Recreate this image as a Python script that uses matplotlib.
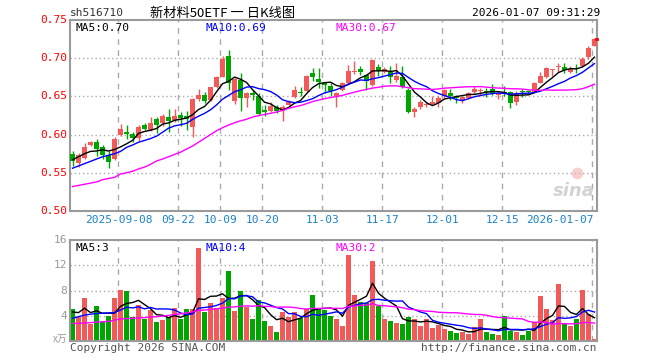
import matplotlib
matplotlib.use("Agg")
import matplotlib.pyplot as plt
import numpy as np

# daily candles, oldest first
opens = [0.575, 0.563, 0.569, 0.5865, 0.590, 0.584, 0.573, 0.568, 0.5995, 0.603,
         0.601, 0.595, 0.6125, 0.6065, 0.620, 0.6155, 0.623, 0.619, 0.626, 0.624,
         0.6105, 0.646, 0.652, 0.645, 0.6625, 0.676, 0.703, 0.6445, 0.6715, 0.6475,
         0.654, 0.651, 0.632, 0.631, 0.6365, 0.631, 0.639, 0.649, 0.656, 0.657,
         0.681, 0.673, 0.667, 0.664, 0.6505, 0.6585, 0.668, 0.682, 0.6855, 0.6775,
         0.665, 0.688, 0.682, 0.682, 0.672, 0.676, 0.6585, 0.630, 0.6365, 0.6385,
         0.6395, 0.642, 0.6505, 0.655, 0.649, 0.6455, 0.6475, 0.656, 0.657, 0.6575,
         0.6595, 0.652, 0.656, 0.6555, 0.643, 0.6562, 0.6564, 0.656, 0.668, 0.6755,
         0.685, 0.688, 0.689, 0.682, 0.686, 0.690, 0.701, 0.716]
highs = [0.5785, 0.576, 0.589, 0.591, 0.594, 0.587, 0.578, 0.597, 0.6135, 0.613,
         0.603, 0.6125, 0.615, 0.623, 0.623, 0.627, 0.634, 0.6335, 0.629, 0.631,
         0.6475, 0.6595, 0.6555, 0.662, 0.677, 0.703, 0.711, 0.674, 0.680, 0.656,
         0.658, 0.654, 0.6385, 0.643, 0.6385, 0.6385, 0.645, 0.664, 0.6625, 0.6775,
         0.687, 0.6875, 0.669, 0.667, 0.656, 0.669, 0.691, 0.696, 0.690, 0.679,
         0.699, 0.6925, 0.689, 0.690, 0.694, 0.690, 0.6605, 0.6365, 0.6455, 0.643,
         0.6505, 0.6505, 0.660, 0.6595, 0.652, 0.6505, 0.656, 0.6635, 0.6615, 0.6605,
         0.666, 0.656, 0.6635, 0.6565, 0.6575, 0.6593, 0.6584, 0.669, 0.682, 0.689,
         0.686, 0.694, 0.694, 0.690, 0.692, 0.701, 0.716, 0.726]
lows = [0.559, 0.557, 0.568, 0.5855, 0.572, 0.5685, 0.556, 0.5665, 0.598, 0.594,
        0.590, 0.591, 0.606, 0.6045, 0.602, 0.611, 0.604, 0.617, 0.611, 0.606,
        0.597, 0.6445, 0.641, 0.644, 0.6615, 0.675, 0.658, 0.6395, 0.631, 0.6365,
        0.645, 0.6255, 0.6245, 0.6295, 0.628, 0.618, 0.6385, 0.6475, 0.650, 0.656,
        0.670, 0.661, 0.655, 0.650, 0.6365, 0.657, 0.666, 0.679, 0.6785, 0.659,
        0.6635, 0.6765, 0.681, 0.668, 0.669, 0.6615, 0.6285, 0.6225, 0.633, 0.636,
        0.6385, 0.6365, 0.6475, 0.645, 0.641, 0.641, 0.6465, 0.653, 0.652, 0.649,
        0.652, 0.646, 0.6505, 0.635, 0.6385, 0.6488, 0.6541, 0.6555, 0.667, 0.6745,
        0.6765, 0.682, 0.681, 0.680, 0.681, 0.689, 0.6985, 0.7155]
closes = [0.565, 0.573, 0.584, 0.590, 0.581, 0.573, 0.5645, 0.594, 0.607, 0.601,
          0.5955, 0.610, 0.607, 0.615, 0.6125, 0.624, 0.618, 0.624, 0.622, 0.620,
          0.646, 0.652, 0.644, 0.662, 0.676, 0.699, 0.667, 0.6725, 0.648, 0.655,
          0.652, 0.627, 0.630, 0.637, 0.6315, 0.636, 0.643, 0.658, 0.654, 0.6765,
          0.676, 0.6685, 0.665, 0.657, 0.655, 0.668, 0.6835, 0.6835, 0.682, 0.6705,
          0.6975, 0.6835, 0.686, 0.6755, 0.6765, 0.6625, 0.630, 0.6335, 0.643, 0.640,
          0.643, 0.648, 0.659, 0.651, 0.648, 0.6495, 0.655, 0.6595, 0.6577, 0.6555,
          0.654, 0.6545, 0.654, 0.641, 0.654, 0.6554, 0.6558, 0.668, 0.6765, 0.687,
          0.6855, 0.689, 0.6845, 0.6855, 0.6855, 0.6985, 0.713, 0.7245]
# volume, unit 万
volumes = [5.0, 3.85, 6.8, 2.7, 5.55, 3.05, 3.95, 6.8, 8.1, 7.85,
           3.75, 5.7, 3.47, 4.9, 3.05, 3.3, 3.75, 5.2, 3.47, 5.0,
           5.0, 14.8, 4.6, 6.0, 5.2, 6.8, 11.15, 4.75, 7.95, 5.45,
           3.47, 6.5, 3.15, 2.35, 1.4, 4.65, 3.75, 4.6, 3.6, 5.0,
           7.3, 5.0, 4.9, 3.95, 3.47, 2.35, 13.6, 7.3, 6.25, 6.0,
           12.65, 5.55, 3.47, 3.15, 2.8, 2.7, 3.75, 3.47, 2.35, 3.47,
           2.1, 2.5, 1.87, 1.55, 1.3, 1.4, 1.07, 2.15, 3.47, 1.4,
           1.07, 0.9, 3.95, 1.55, 1.4, 0.9, 1.55, 3.05, 7.15, 5.07,
           3.4, 9.1, 2.7, 2.35, 3.47, 8.1, 4.27, 0.27]

# moving average values at the left edge (they depend on days before the window)
ma5_head = [0.567, 0.571, 0.575, 0.578]
ma10_head = [0.556, 0.559, 0.562, 0.565, 0.568, 0.571, 0.573, 0.575, 0.578]
ma30_head = [0.532, 0.5335, 0.535, 0.5365, 0.538, 0.541, 0.5425, 0.544, 0.5485, 0.550,
             0.552, 0.555, 0.5575, 0.561, 0.5655, 0.568, 0.571, 0.574, 0.577, 0.581,
             0.585, 0.590, 0.595, 0.600, 0.605, 0.609, 0.6125, 0.6155, 0.618]
vma5_head = [4.6, 4.5, 5.2, 4.5]
vma10_head = [3.6, 3.85, 4.1, 4.25, 4.35, 4.4, 4.45, 4.5, 4.9]
vma30_head = [2.78, 2.8, 2.85, 2.9, 3.0, 3.05, 3.1, 3.3, 3.5, 3.55,
              3.6, 3.65, 3.7, 3.8, 3.85, 3.95, 4.05, 4.2, 4.3, 4.45,
              4.6, 4.85, 4.9, 5.0, 5.1, 5.2, 5.35, 5.4, 5.5]

date_idx = [8, 18, 25, 32, 42, 52, 62, 72, 87]
date_labels = ["2025-09-08", "09-22", "10-09", "10-20", "11-03", "11-17", "12-01", "12-15", "2026-01-07"]
price_ticks = [0.50, 0.55, 0.60, 0.65, 0.70, 0.75]
vol_ticks = [4, 8, 12, 16]

RED = "#f25a5a"
GREEN = "#00a600"
GRID = "#aaaaaa"
FRAME = "#9a9a9a"
MONO = "DejaVu Sans Mono"
CJK = ["Noto Sans CJK SC", "DejaVu Sans"]


def moving(values, n, head):
    out = list(head)
    for i in range(len(head), len(values)):
        out.append(np.mean(values[i - n + 1:i + 1]))
    return np.array(out)


W, H = 660, 360
fig = plt.figure(figsize=(W / 100, H / 100), dpi=100)
fig.patch.set_facecolor("white")


def px_axes(x0, y0, x1, y1):
    return fig.add_axes([x0 / W, 1 - y1 / H, (x1 - x0) / W, (y1 - y0) / H])


ax = px_axes(70, 20, 597, 211)
axv = px_axes(70, 240, 597, 341)

n = len(closes)
x = np.arange(n)
o = np.array(opens)
c = np.array(closes)
up = c >= o
cols = np.where(up, RED, GREEN)

for a in (ax, axv):
    a.set_xlim(-0.42, n - 1 + 0.42)
    for s in a.spines.values():
        s.set_color(FRAME)
        s.set_linewidth(1.5)
    a.tick_params(length=0, labelbottom=False, labelleft=False)
    for d in date_idx:
        a.axvline(d - 0.35, color=GRID, lw=1, ls=(0, (4, 4)), zorder=0)

# price panel
ax.set_ylim(0.50, 0.75)
for t in price_ticks[1:-1]:
    ax.axhline(t, color=GRID, lw=1, ls=(0, (1, 2)), zorder=0)
ax.vlines(x, lows, highs, colors=cols, lw=1, zorder=2)
body = np.maximum(np.abs(c - o), 0.0012)
ax.bar(x, body, bottom=np.minimum(o, c), width=0.78, color=cols, lw=0, zorder=3)
ax.plot(x, moving(closes, 5, ma5_head), color="black", lw=1, zorder=4)
ax.plot(x, moving(closes, 10, ma10_head), color="#0000ff", lw=1, zorder=4)
ax.plot(x, moving(closes, 30, ma30_head), color="#ff00ff", lw=1, zorder=4)
ax.plot([n - 1 + 0.2, n - 1 + 0.42], [closes[-1]] * 2, color="red", lw=2, clip_on=False, zorder=5)

for t in price_ticks:
    ax.text(-0.9, t, f"{t:.2f}", color="red", ha="right", va="center",
            fontsize=8, family=MONO)

ax.text(0.01, 0.985, "MA5:0.70", transform=ax.transAxes, color="black",
        fontsize=8, family=MONO, va="top")
ax.text(0.257, 0.985, "MA10:0.69", transform=ax.transAxes, color="#0000ff",
        fontsize=8, family=MONO, va="top")
ax.text(0.504, 0.985, "MA30:0.67", transform=ax.transAxes, color="#ff00ff",
        fontsize=8, family=MONO, va="top")

# watermark
ax.text(0.995, 0.06, "sina", transform=ax.transAxes, color="#c8c8c8",
        fontsize=13, fontweight="bold", fontstyle="italic", ha="right", va="bottom", alpha=0.8)
ax.scatter([0.962], [0.2], transform=ax.transAxes, s=70, color="#f4b0b0", alpha=0.6, lw=0)

# volume panel
axv.set_ylim(0, 16)
for t in vol_ticks[:-1]:
    axv.axhline(t, color=GRID, lw=1, ls=(0, (1, 2)), zorder=0)
axv.bar(x, volumes, width=0.8, color=cols, lw=0, zorder=2)
axv.plot(x, moving(volumes, 5, vma5_head), color="black", lw=1, zorder=4)
axv.plot(x, moving(volumes, 10, vma10_head), color="#0000ff", lw=1, zorder=4)
axv.plot(x, moving(volumes, 30, vma30_head), color="#ff00ff", lw=1, zorder=4)
for t in vol_ticks:
    axv.text(-0.9, t, str(t), color="#999999", ha="right", va="center",
             fontsize=8, family=MONO)
axv.text(-0.9, 0.3, "x万", color="#999999", ha="right", va="center",
         fontsize=7, family=CJK)
axv.text(0.01, 0.97, "MA5:3", transform=axv.transAxes, color="black",
         fontsize=8, family=MONO, va="top")
axv.text(0.257, 0.97, "MA10:4", transform=axv.transAxes, color="#0000ff",
         fontsize=8, family=MONO, va="top")
axv.text(0.504, 0.97, "MA30:2", transform=axv.transAxes, color="#ff00ff",
         fontsize=8, family=MONO, va="top")

# date labels between the panels
for d, lab in zip(date_idx, date_labels):
    ha = "right" if d == n - 1 else "center"
    xx = d - 0.35 if ha == "center" else d - 0.1
    ax.text(xx, -0.047, lab, transform=ax.get_xaxis_transform(), color="#1a82c8",
            ha=ha, va="center", fontsize=8, family=MONO)

# header and footer
fig.text(70 / W, 1 - 13 / H, "sh516710", fontsize=8, family=MONO, va="center", color="#333333")
fig.text(150 / W, 1 - 13 / H, "新材料50ETF 一 日K线图", fontsize=9.5, family=CJK, va="center")
fig.text(600 / W, 1 - 13 / H, "2026-01-07 09:31:29", fontsize=8, family=MONO,
         va="center", ha="right")
fig.text(70 / W, 1 - 348 / H, "Copyright 2026 SINA.COM", fontsize=8, family=MONO,
         va="center", color="#555555")
fig.text(597 / W, 1 - 348 / H, "http://finance.sina.com.cn", fontsize=8, family=MONO,
         va="center", ha="right", color="#555555")

plt.savefig("out.png", dpi=100)
